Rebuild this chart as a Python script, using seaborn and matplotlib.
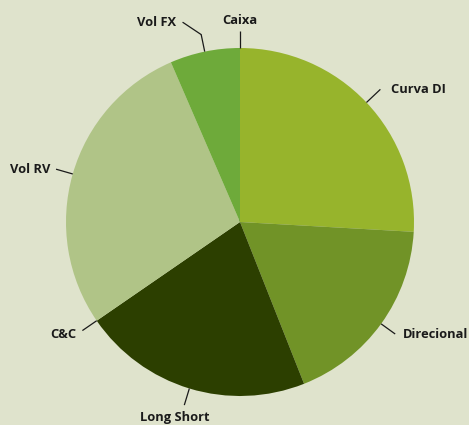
import numpy as np
import matplotlib
matplotlib.use("Agg")
import matplotlib.pyplot as plt
import seaborn as sns

# data (clockwise from top)
categories = ["Caixa", "Curva DI", "Direcional", "Long Short", "C&C", "Vol RV", "Vol FX"]
values = [0.0, 25.9, 18.1, 21.4, 0.0, 28.1, 6.5]
colors = ["#3a4a10", "#97b42c", "#719327", "#2c3f00", "#2c3f00", "#b0c487", "#6eaa3a"]

BG = "#dfe3cc"
sns.set_theme(style="white")
plt.rcParams["font.family"] = ["Open Sans", "DejaVu Sans"]

fig = plt.figure(figsize=(4.69, 4.25), dpi=100, facecolor=BG)
ax = fig.add_axes([0, 0, 1, 1])
ax.set_facecolor(BG)

wedges, _ = ax.pie(values, colors=colors, startangle=90, counterclock=False,
                   radius=1.0, center=(0, 0), wedgeprops=dict(linewidth=0))
# thin separator for the zero-width "Caixa" slice
wedges[0].set_edgecolor("#2c3a10")
wedges[0].set_linewidth(0.9)

# label placement style: (text offset in data units relative to elbow end, ha, va)
label_style = {
    "Caixa": ((0.0, 0.02), "center", "bottom"),
    "Curva DI": ((0.06, 0.0), "left", "center"),
    "Direcional": ((0.045, 0.0), "left", "center"),
    "Long Short": ((-0.055, -0.035), "center", "top"),
    "C&C": ((-0.035, -0.02), "right", "center"),
    "Vol RV": ((-0.035, 0.0), "right", "center"),
    "Vol FX": ((-0.145, 0.07), "right", "center"),
}

for w, name in zip(wedges, categories):
    ang = np.deg2rad((w.theta1 + w.theta2) / 2.0)
    x0, y0 = np.cos(ang), np.sin(ang)
    r1 = 1.11 if name == "Curva DI" else 1.1
    x1, y1 = r1 * x0, r1 * y0
    ax.plot([x0, x1], [y0, y1], color="#1a1a1a", lw=0.9, solid_capstyle="butt")
    (dx, dy), ha, va = label_style[name]
    tx, ty = x1 + dx, y1 + dy
    if name == "Vol FX":
        ax.plot([x1, tx + 0.04], [y1, ty], color="#1a1a1a", lw=0.9)
    ax.text(tx, ty, name, ha=ha, va=va, fontsize=9.3, fontweight="bold", color="#1a1a1a")

ax.set_xlim(-240 / 174, (469 - 240) / 174)
ax.set_ylim(-(425 - 222) / 174, 222 / 174)
ax.set_aspect("auto")
ax.axis("off")

fig.savefig("out.png", dpi=100, facecolor=BG)
